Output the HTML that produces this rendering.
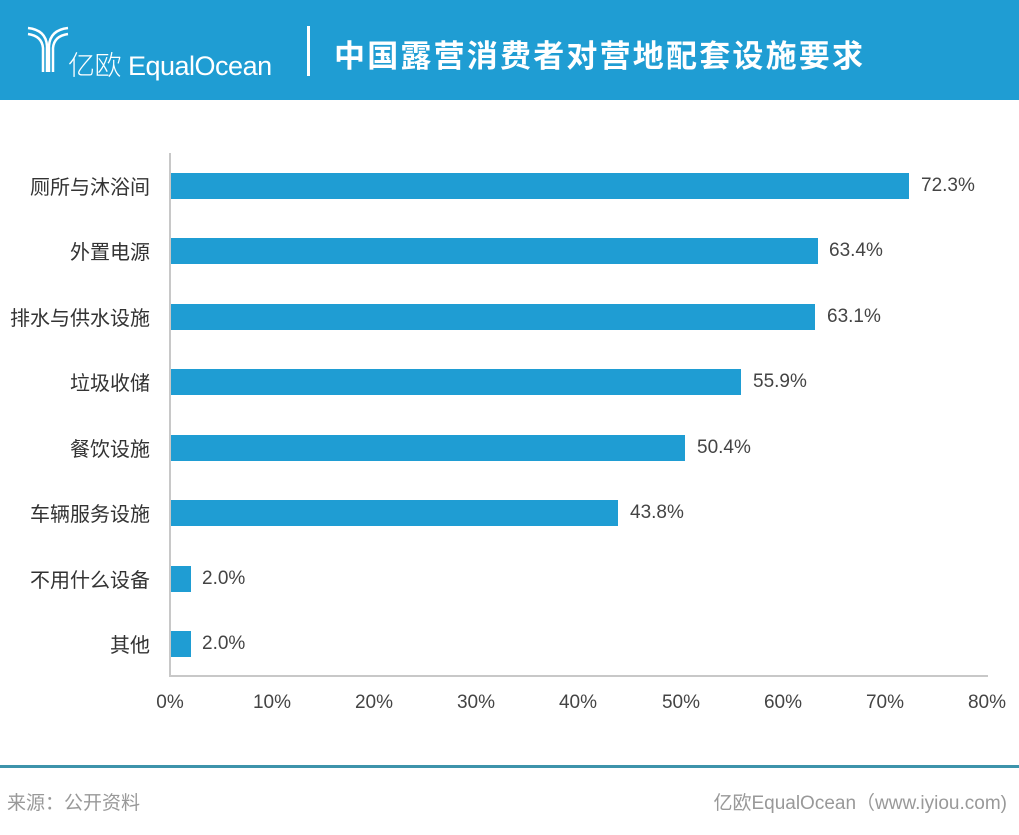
<!DOCTYPE html>
<html><head><meta charset="utf-8"><style>
body{margin:0;width:1019px;height:835px;background:#fff;position:relative;overflow:hidden;font-family:"Liberation Sans","Noto Sans CJK SC",sans-serif}
.hd{position:absolute;left:0;top:0;width:1019px;height:100px;background:#1f9dd3}
.t{position:absolute;color:#fff}
.lab{position:absolute;left:0;width:150px;text-align:right;font-size:20px;color:#333;margin-top:-3px}
.bar{position:absolute;left:171px;height:26px;background:#1f9dd3}
.val{position:absolute;font-size:19px;color:#444}
.tk{position:absolute;top:692px;width:60px;text-align:center;font-size:19px;color:#444;font-weight:300}
</style></head><body>
<div class="hd"></div>
<svg style="position:absolute;left:26px;top:24px" width="44" height="50" viewBox="0 0 44 50"><g fill="none" stroke="#fff" stroke-width="2.5"><path d="M2 4 Q20 6 21 22 V48"/><path d="M2 10 Q16 12 17 24 V48"/><path d="M42 4 Q24 6 23 22 V48"/><path d="M42 10 Q28 12 27 24 V48"/></g></svg>
<div class="t" style="left:68px;top:44px;font-size:27px;font-weight:300;letter-spacing:-0.5px">亿欧 EqualOcean</div>
<div style="position:absolute;left:307px;top:26px;width:3px;height:50px;background:#fff"></div>
<div class="t" style="left:334px;top:31px;font-size:31px;font-weight:bold;letter-spacing:2.2px">中国露营消费者对营地配套设施要求</div>
<div style="position:absolute;left:169px;top:153px;width:2px;height:524px;background:#c8c8c8"></div>
<div style="position:absolute;left:169px;top:675px;width:819px;height:2px;background:#c8c8c8"></div>
<div class="lab" style="top:174px">厕所与沐浴间</div><div class="bar" style="top:173px;width:738px"></div><div class="val" style="left:921px;top:175px">72.3%</div>
<div class="lab" style="top:239px">外置电源</div><div class="bar" style="top:238px;width:647px"></div><div class="val" style="left:829px;top:240px">63.4%</div>
<div class="lab" style="top:305px">排水与供水设施</div><div class="bar" style="top:304px;width:644px"></div><div class="val" style="left:827px;top:306px">63.1%</div>
<div class="lab" style="top:370px">垃圾收储</div><div class="bar" style="top:369px;width:570px"></div><div class="val" style="left:753px;top:371px">55.9%</div>
<div class="lab" style="top:436px">餐饮设施</div><div class="bar" style="top:435px;width:514px"></div><div class="val" style="left:697px;top:437px">50.4%</div>
<div class="lab" style="top:501px">车辆服务设施</div><div class="bar" style="top:500px;width:447px"></div><div class="val" style="left:630px;top:502px">43.8%</div>
<div class="lab" style="top:567px">不用什么设备</div><div class="bar" style="top:566px;width:20px"></div><div class="val" style="left:202px;top:568px">2.0%</div>
<div class="lab" style="top:632px">其他</div><div class="bar" style="top:631px;width:20px"></div><div class="val" style="left:202px;top:633px">2.0%</div>
<div class="tk" style="left:140px">0%</div><div class="tk" style="left:242px">10%</div><div class="tk" style="left:344px">20%</div><div class="tk" style="left:446px">30%</div><div class="tk" style="left:548px">40%</div><div class="tk" style="left:651px">50%</div><div class="tk" style="left:753px">60%</div><div class="tk" style="left:855px">70%</div><div class="tk" style="left:957px">80%</div>
<div style="position:absolute;left:0;top:765px;width:1019px;height:3px;background:#3d93ab"></div>
<div style="position:absolute;left:7px;top:788px;font-size:19px;color:#999">来源：公开资料</div>
<div style="position:absolute;right:12px;top:788px;font-size:19px;color:#999">亿欧EqualOcean（www.iyiou.com)</div>
</body></html>
